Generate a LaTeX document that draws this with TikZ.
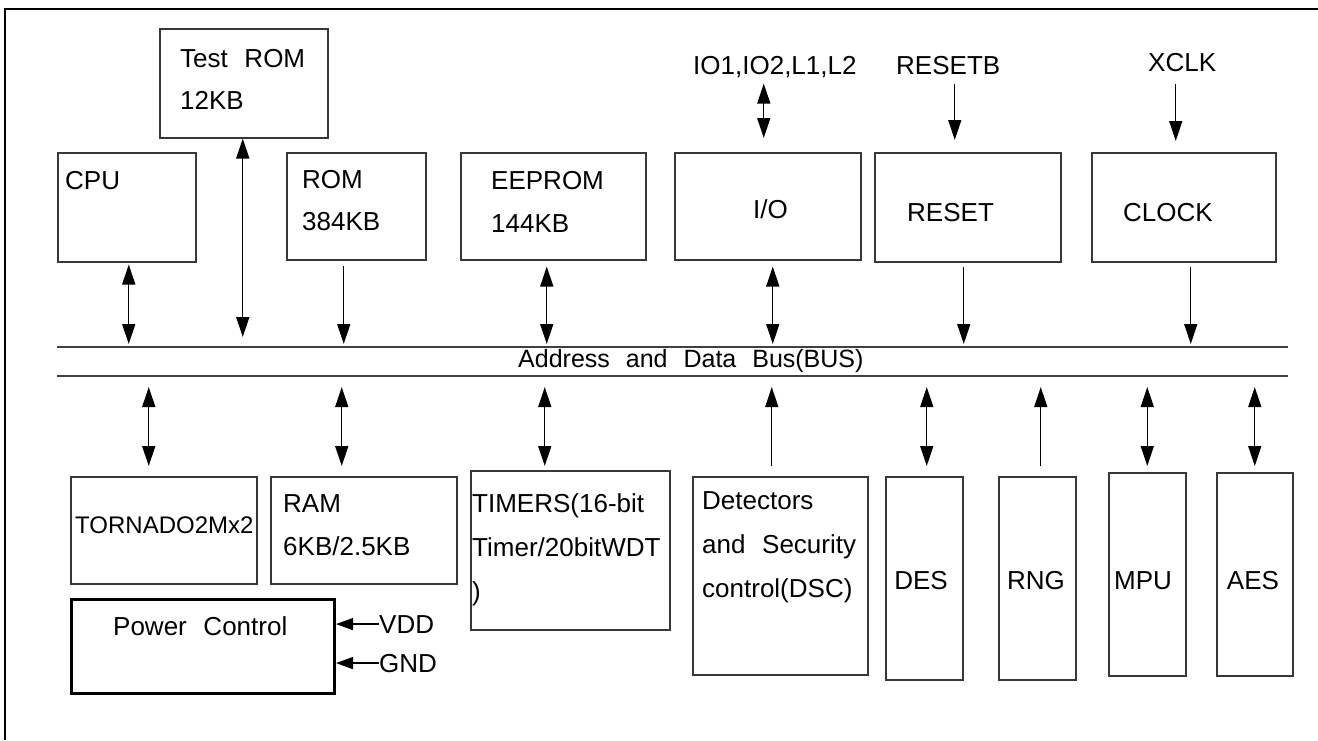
\documentclass[tikz,border=0pt]{standalone}
\usepackage{fontspec}
\setmainfont[WordSpace=2.3]{Liberation Sans}
\usetikzlibrary{arrows.meta}
\begin{document}
\begin{tikzpicture}[x=1pt,y=-1pt,
  box/.style={draw=black!78, line width=1.5pt, inner sep=0pt, anchor=north west},
  pbox/.style={draw=black, line width=3pt, inner sep=0pt, anchor=north west},
  txt/.style={inner sep=0pt, anchor=base west, align=left, font=\fontsize{26}{43}\selectfont},
  ctxt/.style={inner sep=0pt, anchor=base, font=\fontsize{26}{43}\selectfont},
  busline/.style={draw=black!75, line width=1.5pt},
  arr/.style={-{Triangle[length=20pt,width=13pt]}, line width=1.3pt},
  dbl/.style={{Triangle[length=20pt,width=13pt]}-{Triangle[length=20pt,width=13pt]}, line width=1.3pt},
  parr/.style={-{Triangle[length=17pt,width=12pt]}, line width=1.3pt},
  frame/.style={line width=2.5pt, draw=black}]
\useasboundingbox (0,0) rectangle (1318,740);
% outer frame (top and left)
\coordinate (fTL) at (5,9);
\coordinate (fTR) at (1318,9);
\coordinate (fBL) at (5,740);
\draw[frame] (fTR) -- (fTL) -- (fBL);

% upper boxes
\node[box, minimum width=168, minimum height=109] (trom) at (159,28) {};
\node[box, minimum width=138, minimum height=109] (cpu) at (57,152) {};
\node[box, minimum width=139, minimum height=107] (rom) at (286,152) {};
\node[box, minimum width=185, minimum height=107] (eep) at (460,152) {};
\node[box, minimum width=186, minimum height=107] (io) at (674,152) {};
\node[box, minimum width=186, minimum height=109] (rst) at (874,152) {};
\node[box, minimum width=184, minimum height=109] (clk) at (1091,152) {};

% multi-line texts are anchored at the baseline of their last line
\node[txt, font=\fontsize{26}{42}\selectfont] (tromt) at (180,109) {Test ROM\\12KB};
\node[txt] (cput) at (65,189) {CPU};
\node[txt, font=\fontsize{26}{42}\selectfont] (romt) at (302,230) {ROM\\384KB};
\node[txt] (eept) at (491,232) {EEPROM\\144KB};
\node[txt] (iot) at (753,218) {I/O};
\node[txt] (rstt) at (907,221) {RESET};
\node[txt] (clkt) at (1123,221) {CLOCK};

% external signals
\node[txt] (iol) at (693,74) {IO1,IO2,L1,L2};
\node[txt] (rstb) at (896,74) {RESETB};
\node[txt] (xclk) at (1148,71) {XCLK};

% bus
\coordinate (bTL) at (57,347);
\coordinate (bTR) at (1288,347);
\coordinate (bBL) at (57,376);
\coordinate (bBR) at (1288,376);
\draw[busline] (bTL) -- (bTR);
\draw[busline] (bBL) -- (bBR);
\node[txt, font=\fontsize{25}{30}\selectfont] (bust) at (518,367) {Address and Data Bus(BUS)};

% lower boxes
\node[box, minimum width=186, minimum height=107] (torn) at (70,476) {};
\node[box, minimum width=186, minimum height=107] (ram) at (270,476) {};
\node[box, minimum width=199, minimum height=159] (tim) at (470,470) {};
\node[box, minimum width=175, minimum height=198] (dsc) at (692,476) {};
\node[box, minimum width=77, minimum height=203] (des) at (885,476) {};
\node[box, minimum width=77, minimum height=203] (rng) at (998,476) {};
\node[box, minimum width=77, minimum height=203] (mpu) at (1108,472) {};
\node[box, minimum width=76, minimum height=203] (aes) at (1216,472) {};
\node[pbox, minimum width=263, minimum height=94] (pc) at (70,598) {};

\node[txt, font=\fontsize{24}{30}\selectfont] (tornt) at (75,533) {TORNADO2Mx2};
\node[txt] (ramt) at (283,555) {RAM\\6KB/2.5KB};
\node[txt, font=\fontsize{26}{44}\selectfont] (timt) at (472,600) {TIMERS(16-bit\\Timer/20bitWDT\\)};
\node[txt, font=\fontsize{26}{44}\selectfont] (dsct) at (702,597) {Detectors\\and Security\\control(DSC)};
\node[ctxt] (dest) at (921,589) {DES};
\node[ctxt] (rngt) at (1036,589) {RNG};
\node[ctxt] (mput) at (1143,589) {MPU};
\node[ctxt] (aest) at (1253,589) {AES};
\node[txt] (pct) at (113,635) {Power Control};
\node[txt] (vdd) at (379,633) {VDD};
\node[txt] (gnd) at (379,672) {GND};

% top connectors
\draw[dbl, shorten <=2pt, shorten >=3pt] ([xshift=2pt]cpu.south) -- ([xshift=2pt]cpu.south |- bTL);
\draw[dbl, shorten >=10pt] ([xshift=-1pt]trom.south) -- ([xshift=-1pt]trom.south |- bTL);
\draw[arr, shorten <=5pt, shorten >=3pt] ([xshift=-12.5pt]rom.south) -- ([xshift=-12.5pt]rom.south |- bTL);
\draw[dbl, shorten <=6pt, shorten >=3pt] ([xshift=-6.5pt]eep.south) -- ([xshift=-6.5pt]eep.south |- bTL);
\draw[dbl, shorten <=6pt, shorten >=3pt] ([xshift=5pt]io.south) -- ([xshift=5pt]io.south |- bTL);
\draw[arr, shorten <=4pt, shorten >=3pt] ([xshift=-4pt]rst.south) -- ([xshift=-4pt]rst.south |- bTL);
\draw[arr, shorten <=4pt, shorten >=3pt] ([xshift=7pt]clk.south) -- ([xshift=7pt]clk.south |- bTL);

% external connectors
\draw[dbl, shorten <=14pt, shorten >=6pt] ([xshift=-4pt]io.north) -- ([xshift=-4pt]io.north |- iol.south);
\draw[arr, shorten <=10pt, shorten >=12pt] ([xshift=-13pt]rst.north |- rstb.south) -- ([xshift=-13pt]rst.north);
\draw[arr, shorten <=13pt, shorten >=11pt] ([xshift=-8pt]clk.north |- xclk.south) -- ([xshift=-8pt]clk.north);

% bottom connectors
\draw[dbl, shorten <=11pt, shorten >=10pt] ([xshift=-15pt]torn.north |- bBL) -- ([xshift=-15pt]torn.north);
\draw[dbl, shorten <=11pt, shorten >=10pt] ([xshift=-22pt]ram.north |- bBL) -- ([xshift=-22pt]ram.north);
\draw[dbl, shorten <=11pt, shorten >=4pt] ([xshift=-25.5pt]tim.north |- bBL) -- ([xshift=-25.5pt]tim.north);
\draw[arr, shorten <=10pt, shorten >=11pt] ([xshift=-8.5pt]dsc.north) -- ([xshift=-8.5pt]dsc.north |- bBL);
\draw[dbl, shorten <=11pt, shorten >=10pt] ([xshift=2.5pt]des.north |- bBL) -- ([xshift=2.5pt]des.north);
\draw[arr, shorten <=10pt, shorten >=11pt] ([xshift=3.5pt]rng.north) -- ([xshift=3.5pt]rng.north |- bBL);
\draw[dbl, shorten <=11pt, shorten >=6pt] (mpu.north |- bBL) -- (mpu.north);
\draw[dbl, shorten <=11pt, shorten >=6pt] (aes.north |- bBL) -- (aes.north);

% power connectors
\draw[parr] (vdd.west) -- (vdd.west -| pc.east);
\draw[parr] (gnd.west) -- (gnd.west -| pc.east);
\end{tikzpicture}
\end{document}
